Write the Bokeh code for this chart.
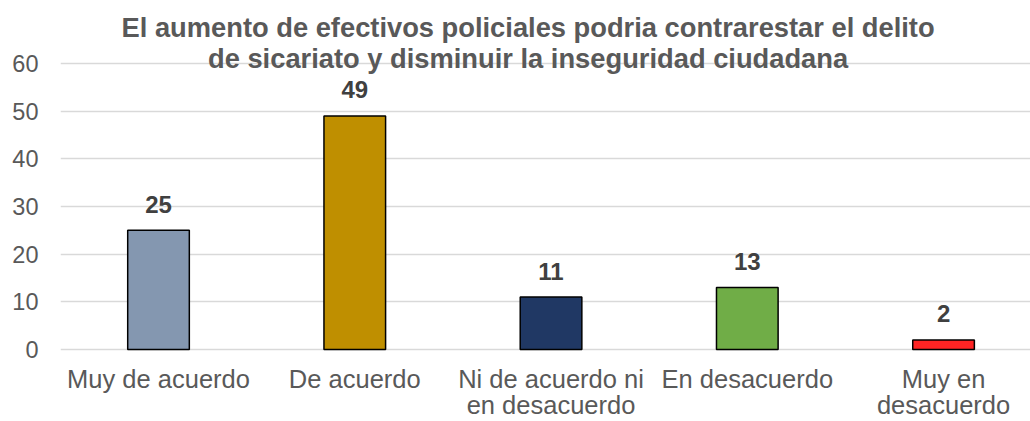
from bokeh.plotting import figure
from bokeh.models import ColumnDataSource, Range1d, FixedTicker
from bokeh.core.properties import value
from bokeh.embed import file_html
from bokeh.resources import INLINE

categories = ["Muy de acuerdo", "De acuerdo", "Ni de acuerdo ni\nen desacuerdo",
              "En desacuerdo", "Muy en\ndesacuerdo"]
values = [25, 49, 11, 13, 2]
colors = ["#8497B0", "#BF8F00", "#203864", "#70AD47", "#FF2424"]
y_ticks = [0, 10, 20, 30, 40, 50, 60]
title_lines = ["El aumento de efectivos policiales podria contrarestar el delito",
               "de sicariato y disminuir la inseguridad ciudadana"]

xs = list(range(len(categories)))
src = ColumnDataSource(dict(x=xs, top=values, color=colors,
                            label=[str(v) for v in values],
                            cat=categories, base=[0] * len(xs)))

FONT = "Liberation Sans"

p = figure(width=1030, height=421, output_backend="svg", toolbar_location=None,
           x_range=Range1d(-0.4994, 4.443), y_range=Range1d(-15.10, 73.22),
           min_border_left=60, min_border_right=0, min_border_top=0,
           min_border_bottom=0)
p.outline_line_color = None
p.background_fill_color = "white"
p.border_fill_color = "white"
p.xaxis.visible = False

p.vbar(x="x", top="top", width=0.314, fill_color="color", line_color="black",
       line_width=1.5, source=src)

# value labels
p.text(x="x", y="top", text="label", source=src, text_align="center",
       text_baseline="alphabetic", y_offset=-26, text_font=value(FONT),
       text_font_size="24px", text_font_style="bold", text_color="#404040")

# category labels (below the zero line)
p.text(x="x", y="base", text="cat", source=src, text_align="center",
       text_baseline="top", y_offset=15, text_font=value(FONT),
       text_font_size="25.5px", text_line_height=0.94, text_color="#595959")

# title
title_src = ColumnDataSource(dict(x=[1.883, 1.883], y=[65.52, 58.95], t=title_lines))
p.text(x="x", y="y", text="t", source=title_src, text_align="center",
       text_baseline="alphabetic", y_offset=-10, text_font=value(FONT),
       text_font_size="27.3px", text_font_style="bold", text_color="#595959")

p.yaxis.ticker = FixedTicker(ticks=y_ticks)
ax = p.yaxis[0]
ax.axis_line_color = None
ax.major_tick_line_color = None
ax.minor_tick_line_color = None
ax.major_tick_out = 0
ax.major_tick_in = 0
ax.major_label_text_font = FONT
ax.major_label_text_color = "#595959"
ax.major_label_text_font_size = "23.5px"
ax.major_label_standoff = 22

p.xgrid.grid_line_color = None
p.ygrid.grid_line_color = "#D9D9D9"
p.ygrid.grid_line_width = 1.3

open("out.html", "w").write(file_html(p, INLINE))
